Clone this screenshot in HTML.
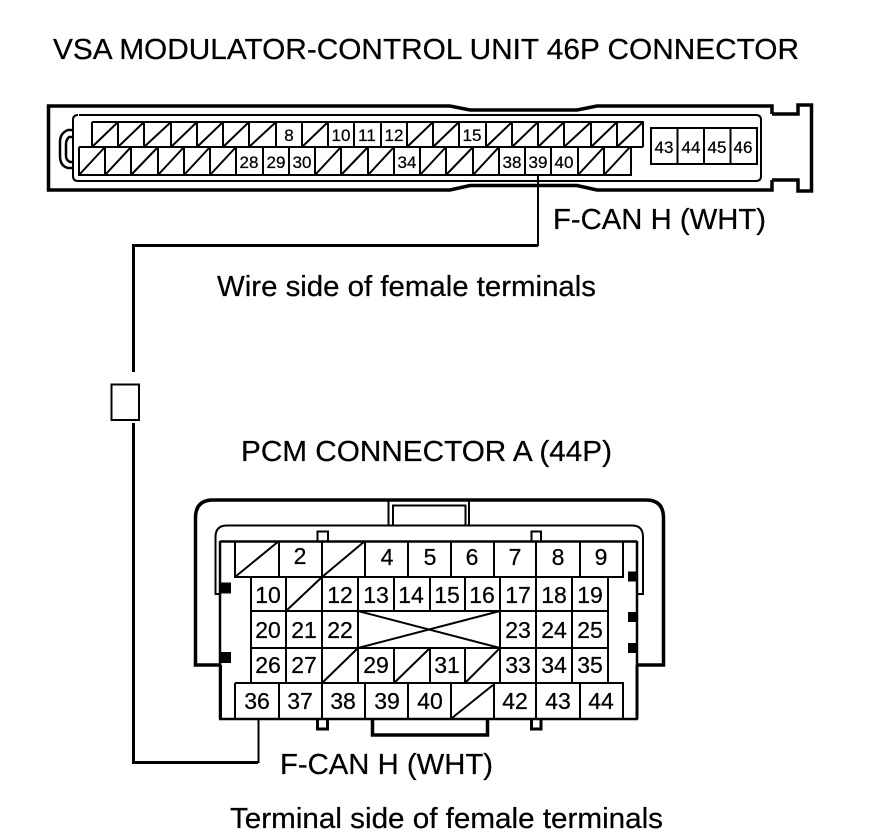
<!DOCTYPE html>
<html>
<head>
<meta charset="utf-8">
<style>
html,body{margin:0;padding:0;background:#fff;width:880px;height:838px;overflow:hidden}
svg{display:block}
text{font-family:"Liberation Sans",sans-serif;fill:#000;stroke:#000;stroke-width:.25px}
.s{font-size:17px;text-anchor:middle}
.m{font-size:23px;text-anchor:middle}
.l{font-size:29px}
</style>
</head>
<body>
<svg width="880" height="838" viewBox="0 0 880 838" xmlns="http://www.w3.org/2000/svg" fill="none" stroke="#000">
<!-- VSA connector -->
<path stroke-width="3.500" d="M772 114V106H597L577 110H470L450 106H48.500V190H450L470 185.500H577L597 190H772V180M772 114H798V105H811.500V191H798V180H772"/>
<path stroke-width="2" d="M79 115H756Q761 115 761 120V176Q761 181 756 181H78Q73 181 73 176V120Q73 115 78 115"/>
<path stroke-width="2.500" d="M73 130H68Q60 133 60 142V156Q60 166 68 168H73M73 137H69Q66 140 66 144V156Q66 160 70 162H73"/>
<!-- upper rows -->
<path stroke-width="2" d="M92 122H643V147M92 122V147M79 147H643M79 147V175H631V147M118 122V147M144 122V147M171 122V147M197 122V147M223 122V147M249 122V147M276 122V147M302 122V147M328 122V147M354 122V147M381 122V147M407 122V147M433 122V147M459 122V147M486 122V147M512 122V147M538 122V147M564 122V147M591 122V147M617 122V147"/>
<path stroke-width="2" d="M105 147V175M131 147V175M158 147V175M184 147V175M210 147V175M236 147V175M263 147V175M289 147V175M315 147V175M341 147V175M368 147V175M394 147V175M420 147V175M446 147V175M473 147V175M499 147V175M525 147V175M551 147V175M578 147V175M604 147V175"/>
<path stroke-width="2" d="M92 147L118 122M118 147L144 122M144 147L171 122M171 147L197 122M197 147L223 122M223 147L249 122M249 147L276 122M302 147L328 122M407 147L433 122M433 147L459 122M486 147L512 122M512 147L538 122M538 147L564 122M564 147L591 122M591 147L617 122M617 147L643 122"/>
<path stroke-width="2" d="M79 175L105 147M105 175L131 147M131 175L158 147M158 175L184 147M184 175L210 147M210 175L236 147M315 175L341 147M341 175L368 147M368 175L394 147M420 175L446 147M446 175L473 147M473 175L499 147M578 175L604 147M604 175L630 147"/>
<path stroke-width="2" d="M651 128H757V164H651ZM677.500 128V164M704 128V164M730.500 128V164"/>
<g stroke="none">
<text class="s" x="289" y="141">8</text><text class="s" x="341" y="141">10</text><text class="s" x="367" y="141">11</text><text class="s" x="394" y="141">12</text><text class="s" x="472" y="141">15</text>
<text class="s" x="249" y="168">28</text><text class="s" x="276" y="168">29</text><text class="s" x="302" y="168">30</text><text class="s" x="407" y="168">34</text><text class="s" x="512" y="168">38</text><text class="s" x="538" y="168">39</text><text class="s" x="564" y="168">40</text>
<text class="s" x="664" y="153">43</text><text class="s" x="691" y="153">44</text><text class="s" x="717" y="153">45</text><text class="s" x="743" y="153">46</text>
</g>
<!-- wire -->
<path stroke-width="2" d="M538 175V246"/>
<path stroke-width="3" d="M538 245.500H133.500V372M133.500 423V762.500H258"/>
<path stroke-width="2" d="M111.500 384.500H139V420H111.500Z"/>
<path stroke-width="2" d="M258.500 719V763"/>
<!-- PCM connector -->
<path stroke-width="3.500" d="M221 665H195.500V518Q195.500 500 213 500H646Q663.500 500 663.500 518V665H638"/>
<path stroke-width="2" d="M388.500 500V525M393 525V505.500H465.500V525M469 500V525"/>
<path stroke-width="2" d="M220 594H215.500V537Q215.500 525.500 227 525.500H632Q643 525.500 643 537V594H638"/>
<path stroke-width="2.500" d="M220 541.500H637M220 541V719M637 541V719M219 719H638"/>
<path stroke-width="3" d="M220.500 665V719M637 665V719"/>
<!-- top row and bottom row -->
<path stroke-width="2" d="M235 541V577H623V541M279 541V577M322 541V577M365 541V577M408 541V577M451 541V577M494 541V577M536 541V577M580 541V577"/>
<path stroke-width="2" d="M235 683H623V719M235 683V719M279 683V719M322 683V719M365 683V719M408 683V719M451 683V719M494 683V719M536 683V719M580 683V719"/>
<!-- center grid -->
<path stroke-width="2" d="M251 577V683M608 577V683M251 611H358M251 648H358M500 611H608M500 648H608M358 611H500M358 648H500M286 577V683M322 577V683M358 577V683M394 577V611M430 577V611M465 577V611M500 577V683M536 577V683M572 577V683M394 648V683M430 648V683M465 648V683"/>
<path stroke-width="2" d="M358 611L500 648M358 648L500 611"/>
<path stroke-width="2" d="M235 577L279 541M322 577L365 541M286 611L322 577M322 683L358 648M394 683L430 648M465 683L500 648M452 718L493 685"/>
<!-- tabs -->
<path stroke-width="2" d="M317.500 541V531.500H328V541M531.500 541V531.500H541V541"/>
<path stroke-width="3" d="M317.500 719V729H327.500V719M531.500 719V729H541V719"/>
<path stroke-width="3.500" d="M372.500 719V735H487.500V719"/>
<g fill="#000" stroke="none">
<rect x="220" y="582.500" width="11" height="11"/>
<rect x="220" y="652" width="11" height="11"/>
<rect x="628" y="571.500" width="9" height="10"/>
<rect x="628" y="612" width="9" height="10"/>
<rect x="628" y="643" width="9" height="10"/>
</g>
<g stroke="none">
<text class="m" x="300" y="564">2</text><text class="m" x="387" y="565">4</text><text class="m" x="430" y="565">5</text><text class="m" x="472" y="565">6</text><text class="m" x="515" y="565">7</text><text class="m" x="558" y="565">8</text><text class="m" x="601" y="565">9</text>
<text class="m" x="268" y="603">10</text><text class="m" x="340" y="603">12</text><text class="m" x="376" y="603">13</text><text class="m" x="411" y="603">14</text><text class="m" x="447" y="603">15</text><text class="m" x="482" y="603">16</text><text class="m" x="518" y="603">17</text><text class="m" x="554" y="603">18</text><text class="m" x="590" y="603">19</text>
<text class="m" x="268" y="638">20</text><text class="m" x="304" y="638">21</text><text class="m" x="340" y="638">22</text><text class="m" x="518" y="638">23</text><text class="m" x="554" y="638">24</text><text class="m" x="590" y="638">25</text>
<text class="m" x="268" y="673">26</text><text class="m" x="304" y="673">27</text><text class="m" x="376" y="673">29</text><text class="m" x="447" y="673">31</text><text class="m" x="518" y="673">33</text><text class="m" x="554" y="673">34</text><text class="m" x="590" y="673">35</text>
<text class="m" x="257" y="709">36</text><text class="m" x="300" y="709">37</text><text class="m" x="343" y="709">38</text><text class="m" x="387" y="709">39</text><text class="m" x="430" y="709">40</text><text class="m" x="515" y="709">42</text><text class="m" x="558" y="709">43</text><text class="m" x="601" y="709">44</text>
<text class="l" x="53" y="59" textLength="746" lengthAdjust="spacingAndGlyphs">VSA MODULATOR-CONTROL UNIT 46P CONNECTOR</text>
<text class="l" x="553" y="229" textLength="213" lengthAdjust="spacingAndGlyphs">F-CAN H (WHT)</text>
<text class="l" x="217" y="296" textLength="379" lengthAdjust="spacingAndGlyphs">Wire side of female terminals</text>
<text class="l" x="241" y="461" textLength="371" lengthAdjust="spacingAndGlyphs">PCM CONNECTOR A (44P)</text>
<text class="l" x="280" y="774" textLength="213" lengthAdjust="spacingAndGlyphs">F-CAN H (WHT)</text>
<text class="l" x="230" y="828" textLength="433" lengthAdjust="spacingAndGlyphs">Terminal side of female terminals</text>
</g>
</svg>
</body>
</html>
